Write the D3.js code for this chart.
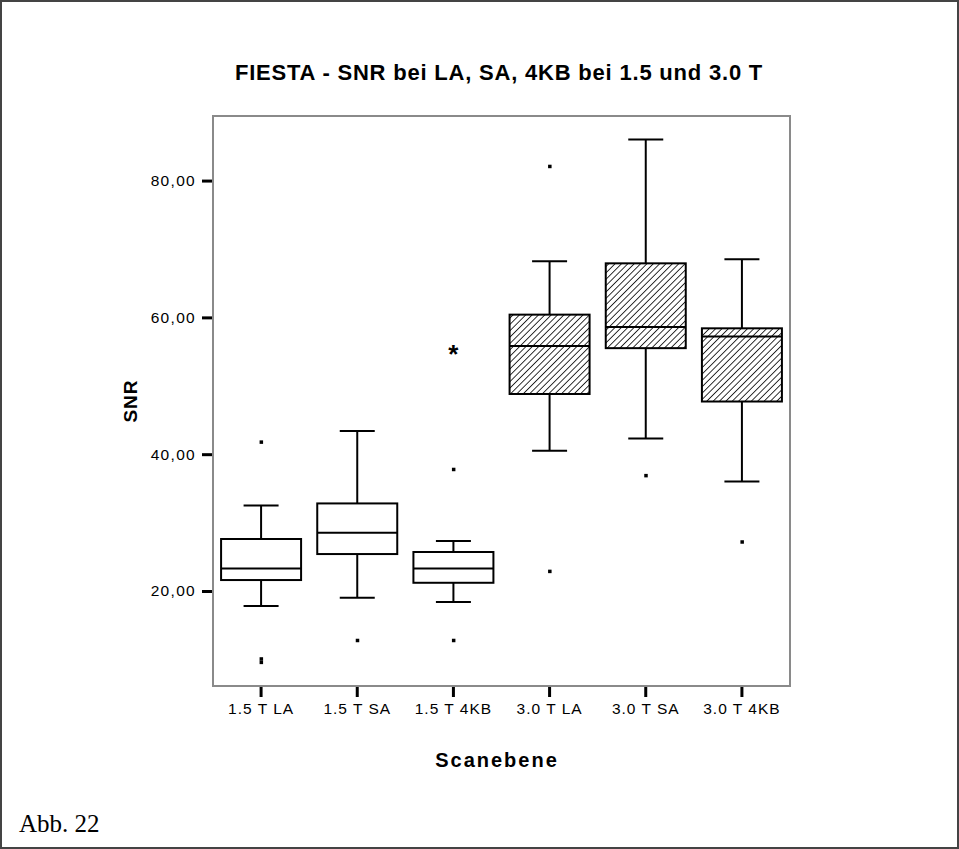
<!DOCTYPE html>
<html><head><meta charset="utf-8">
<script src="https://cdn.jsdelivr.net/npm/d3@7"></script>
<style>html,body{margin:0;padding:0;background:#fff;}svg{display:block;}</style>
</head><body>
<script>
const categories = ["1.5 T LA","1.5 T SA","1.5 T 4KB","3.0 T LA","3.0 T SA","3.0 T 4KB"];
const whiskerLow  = [17.8, 19.0, 18.4, 40.5, 42.3, 36.0];
const q1          = [21.6, 25.4, 21.2, 48.8, 55.5, 47.7];
const median      = [23.3, 28.5, 23.3, 55.8, 58.6, 57.2];
const q3          = [27.6, 32.8, 25.7, 60.4, 67.9, 58.4];
const whiskerHigh = [32.5, 43.4, 27.3, 68.2, 86.0, 68.5];
const outliers    = [[41.8, 10.1, 9.6], [12.8], [37.8, 12.8], [82.1, 22.9], [36.9], [27.2]];
const extremes    = [[], [], [54.9], [], [], []];
const hatched     = [false, false, false, true, true, true];
const yTicks      = [20, 40, 60, 80];

(function(){
const W = 959, H = 849;
const SANS = "Liberation Sans, Arial, sans-serif";
const svg = d3.select("body").append("svg").attr("width", W).attr("height", H);

const defs = svg.append("defs");
const pat = defs.append("pattern").attr("id","hatch").attr("patternUnits","userSpaceOnUse")
  .attr("width",4.5).attr("height",4.5).attr("patternTransform","rotate(45)");
pat.append("rect").attr("width",4.5).attr("height",4.5).attr("fill","#fff");
pat.append("line").attr("x1",0).attr("y1",0).attr("x2",0).attr("y2",4.5)
  .attr("stroke","#000").attr("stroke-width",1.6);

svg.append("rect").attr("x",1).attr("y",1).attr("width",W-2).attr("height",H-2)
  .attr("fill","#fff").attr("stroke","#444").attr("stroke-width",2);

const pL = 213, pR = 790, pT = 116, pB = 686;
const x = d3.scaleBand().domain(categories).range([pL, pR]).paddingInner(0).paddingOuter(0);
const y = d3.scaleLinear().domain([6.11, 89.44]).range([pB, pT]);

svg.append("rect").attr("x",pL).attr("y",pT).attr("width",pR-pL).attr("height",pB-pT)
  .attr("fill","none").attr("stroke","#8a8a8a").attr("stroke-width",2);

const fmt = d => d3.format(".2f")(d).replace(".", ",");
const yAxis = d3.axisLeft(y).tickValues(yTicks).tickSize(10).tickPadding(6).tickFormat(fmt);
const gy = svg.append("g").attr("transform",`translate(${pL-1},0)`).call(yAxis);
gy.select(".domain").remove();
gy.selectAll(".tick line").attr("stroke","#000").attr("stroke-width",3);
gy.selectAll(".tick text").attr("font-family",SANS).attr("font-size",15.5)
  .attr("letter-spacing",1.3).attr("fill","#000");

const xAxis = d3.axisBottom(x).tickSize(10).tickPadding(6);
const gx = svg.append("g").attr("transform",`translate(0,${pB+1})`).call(xAxis);
gx.select(".domain").remove();
gx.selectAll(".tick line").attr("stroke","#000").attr("stroke-width",3);
gx.selectAll(".tick text").attr("font-family",SANS).attr("font-size",15.5)
  .attr("letter-spacing",1).attr("fill","#000");

const bw = 80, cw = 35;
const g = svg.append("g");
categories.forEach((c, i) => {
  const cx = x(c) + x.bandwidth()/2;
  const ln = (x1,y1,x2,y2) => g.append("line").attr("x1",x1).attr("y1",y1).attr("x2",x2).attr("y2",y2)
     .attr("stroke","#000").attr("stroke-width",2);
  ln(cx, y(whiskerHigh[i]), cx, y(q3[i]));
  ln(cx, y(whiskerLow[i]), cx, y(q1[i]));
  ln(cx-cw/2, y(whiskerHigh[i]), cx+cw/2, y(whiskerHigh[i]));
  ln(cx-cw/2, y(whiskerLow[i]), cx+cw/2, y(whiskerLow[i]));
  g.append("rect").attr("x",cx-bw/2).attr("y",y(q3[i])).attr("width",bw).attr("height",y(q1[i])-y(q3[i]))
    .attr("fill", hatched[i] ? "url(#hatch)" : "#fff").attr("stroke","#000").attr("stroke-width",2);
  ln(cx-bw/2, y(median[i]), cx+bw/2, y(median[i]));
  outliers[i].forEach(v => {
    g.append("rect").attr("x",cx-1.5).attr("y",y(v)-1.5).attr("width",3.5).attr("height",3.5).attr("fill","#000");
  });
  extremes[i].forEach(v => {
    g.append("text").attr("x",cx).attr("y",y(v)+11).attr("text-anchor","middle")
      .attr("font-family",SANS).attr("font-weight","bold").attr("font-size",26).text("*");
  });
});

svg.append("text").attr("x",499).attr("y",80).attr("text-anchor","middle")
  .attr("font-family",SANS).attr("font-weight","bold").attr("font-size",22).attr("letter-spacing",0.8)
  .text("FIESTA - SNR bei LA, SA, 4KB bei 1.5 und 3.0 T");
svg.append("text").attr("transform","translate(137,401) rotate(-90)").attr("text-anchor","middle")
  .attr("font-family",SANS).attr("font-weight","bold").attr("font-size",19).attr("letter-spacing",1)
  .text("SNR");
svg.append("text").attr("x",497).attr("y",767).attr("text-anchor","middle")
  .attr("font-family",SANS).attr("font-weight","bold").attr("font-size",20).attr("letter-spacing",2)
  .text("Scanebene");
svg.append("text").attr("x",19).attr("y",832)
  .attr("font-family","Liberation Serif, Times New Roman, serif").attr("font-size",25)
  .text("Abb. 22");
})();
</script>
</body></html>
